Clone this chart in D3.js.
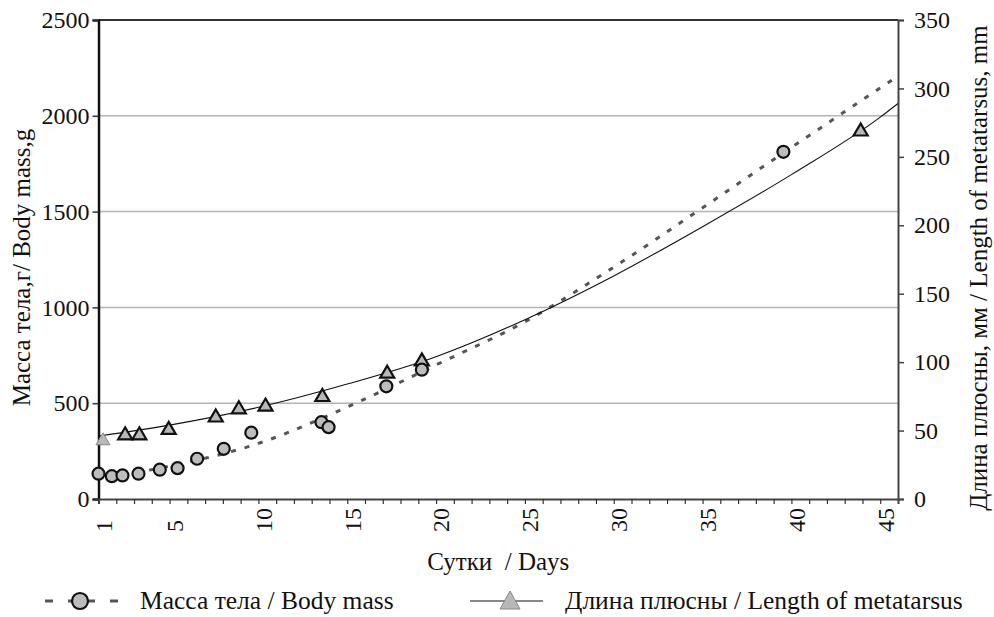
<!DOCTYPE html>
<html>
<head>
<meta charset="utf-8">
<script src="https://cdnjs.cloudflare.com/ajax/libs/d3/7.8.5/d3.min.js"></script>
</head>
<body style="margin:0">
<script>
// data
var massDays = [1, 1.75, 2.35, 3.25, 4.45, 5.45, 6.55, 8.05, 9.6, 13.55, 13.95, 17.2, 19.2, 39.55];
var massValues = [132, 119, 123, 132, 153, 161, 210, 262, 346, 401, 375, 588, 675, 1812];

var tarsusDays = [1.25, 2.5, 3.3, 4.95, 7.6, 8.9, 10.4, 13.6, 17.25, 19.2, 43.9];
var tarsusValues = [44, 48, 48, 52, 61, 67, 69, 76, 93, 102, 270];

// trend lines
var massTrendDays = [2.3, 5, 10, 15, 20, 25, 30, 35, 40, 45, 46];
var massTrendValues = [125, 172, 290, 480, 700, 925, 1210, 1520, 1835, 2145, 2207];
var tarsusTrendDays = [1, 5, 10, 15, 20, 25, 30, 35, 40, 45, 46];
var tarsusTrendValues = [46, 54, 67, 84, 104, 131, 163, 199, 237, 279, 289];

var dayTicks = d3.range(1, 46);
var dayLabels = [1, 5, 10, 15, 20, 25, 30, 35, 40, 45];
var massTicks = [0, 500, 1000, 1500, 2000, 2500];
var tarsusTicks = [0, 50, 100, 150, 200, 250, 300, 350];

var W = 994, H = 617;
var margin = { top: 20, right: 96, bottom: 118, left: 98.5 };
var tickSize = 24, titleSize = 25, legendSize = 25.5;

var svg = d3.select("body").append("svg")
  .attr("width", W)
  .attr("height", H)
  .attr("font-family", "Liberation Serif");

var x = d3.scaleLinear().domain([1, 46]).range([margin.left, W - margin.right]);
var yMass = d3.scaleLinear().domain([0, 2500]).range([H - margin.bottom, margin.top]);
var yTarsus = d3.scaleLinear().domain([0, 350]).range([H - margin.bottom, margin.top]);

var x0 = x.range()[0], x1 = x.range()[1];
var yb = yMass.range()[0], yt = yMass.range()[1];

function styleText(sel, size) {
  sel.attr("font-family", "Liberation Serif")
    .style("font-family", "'Liberation Serif'")
    .attr("font-size", size)
    .attr("fill", "#111");
}

// gridlines
svg.append("g")
  .selectAll("line")
  .data([500, 1000, 1500, 2000])
  .join("line")
  .attr("x1", x0).attr("x2", x1)
  .attr("y1", function (d) { return yMass(d); })
  .attr("y2", function (d) { return yMass(d); })
  .attr("stroke", "#b4b4b4")
  .attr("stroke-width", 1.5);

// frame top line
svg.append("line")
  .attr("x1", x0).attr("x2", x1).attr("y1", yt).attr("y2", yt)
  .attr("stroke", "#333").attr("stroke-width", 2);

// left axis
var leftAxis = svg.append("g")
  .attr("transform", "translate(" + x0 + ",0)")
  .call(d3.axisLeft(yMass).tickValues(massTicks).tickFormat(d3.format("d")).tickSize(6).tickPadding(3));
leftAxis.attr("font-family", "Liberation Serif").attr("font-size", tickSize);
leftAxis.select(".domain").attr("stroke", "#111").attr("stroke-width", 2.5);
leftAxis.selectAll(".tick line").attr("stroke", "#333").attr("stroke-width", 1.5);
leftAxis.selectAll("text").call(styleText, tickSize);

// right axis
var rightAxis = svg.append("g")
  .attr("transform", "translate(" + x1 + ",0)")
  .call(d3.axisRight(yTarsus).tickValues(tarsusTicks).tickSize(6).tickPadding(10));
rightAxis.attr("font-family", "Liberation Serif").attr("font-size", tickSize);
rightAxis.select(".domain").attr("stroke", "#444").attr("stroke-width", 2);
rightAxis.selectAll(".tick line").attr("stroke", "#444").attr("stroke-width", 1.5);
rightAxis.selectAll("text").call(styleText, tickSize);

// bottom axis
var bottomAxis = svg.append("g")
  .attr("transform", "translate(0," + yb + ")")
  .call(d3.axisBottom(x).tickValues(dayTicks).tickSize(5).tickFormat(""));
bottomAxis.attr("font-family", "Liberation Serif");
bottomAxis.select(".domain").attr("stroke", "#444").attr("stroke-width", 2);
bottomAxis.selectAll(".tick line").attr("stroke", "#333").attr("stroke-width", 1.2);

svg.append("g")
  .selectAll("text")
  .data(dayLabels)
  .join("text")
  .attr("transform", function (d) {
    return "translate(" + (x(d) + 5) + "," + (yb + 33) + ") rotate(-90)";
  })
  .attr("dy", "0.35em")
  .attr("text-anchor", "start")
  .call(styleText, tickSize)
  .text(function (d) { return d; });

// trend lines
var line = d3.line().curve(d3.curveMonotoneX);

svg.append("path")
  .attr("d", line(massTrendDays.map(function (d, i) { return [x(d), yMass(massTrendValues[i])]; })))
  .attr("fill", "none")
  .attr("stroke", "#555")
  .attr("stroke-width", 3)
  .attr("stroke-dasharray", "5,9");

svg.append("path")
  .attr("d", line(tarsusTrendDays.map(function (d, i) { return [x(d), yTarsus(tarsusTrendValues[i])]; })))
  .attr("fill", "none")
  .attr("stroke", "#111")
  .attr("stroke-width", 1.1);

// markers
function triangle(cx, cy, hw, hh) {
  return "M" + cx + "," + (cy - hh) + "L" + (cx + hw) + "," + (cy + hh) + "L" + (cx - hw) + "," + (cy + hh) + "Z";
}

svg.append("g")
  .selectAll("path")
  .data(tarsusDays)
  .join("path")
  .attr("d", function (d, i) { return triangle(x(d), yTarsus(tarsusValues[i]), 7, 6); })
  .attr("fill", "#b8b8b8")
  .attr("stroke", function (d, i) { return i === 0 ? "#888" : "#111"; })
  .attr("stroke-width", function (d, i) { return i === 0 ? 1 : 2.2; });

svg.append("g")
  .selectAll("circle")
  .data(massDays)
  .join("circle")
  .attr("cx", function (d) { return x(d); })
  .attr("cy", function (d, i) { return yMass(massValues[i]); })
  .attr("r", 6)
  .attr("fill", "#bdbdbd")
  .attr("stroke", "#111")
  .attr("stroke-width", 2.2);

// axis titles
svg.append("text")
  .attr("transform", "translate(30," + ((yb + yt) / 2 + 8) + ") rotate(-90)")
  .attr("text-anchor", "middle")
  .call(styleText, titleSize)
  .text("Масса тела,г/ Body mass,g");

svg.append("text")
  .attr("transform", "translate(987,268) rotate(-90)")
  .attr("text-anchor", "middle")
  .call(styleText, titleSize)
  .text("Длина плюсны, мм / Length of metatarsus, mm");

svg.append("text")
  .attr("x", (x0 + x1) / 2)
  .attr("y", 570)
  .attr("text-anchor", "middle")
  .call(styleText, titleSize)
  .text("Сутки\u00A0 / Days");

// legend
var ly = 601;
svg.append("line")
  .attr("x1", 45).attr("x2", 118).attr("y1", ly).attr("y2", ly)
  .attr("stroke", "#555").attr("stroke-width", 3)
  .attr("stroke-dasharray", "8 15 27 15 8");
svg.append("circle")
  .attr("cx", 80).attr("cy", ly).attr("r", 8)
  .attr("fill", "#bdbdbd").attr("stroke", "#111").attr("stroke-width", 2.2);
svg.append("text")
  .attr("x", 140).attr("y", ly + 8)
  .call(styleText, legendSize)
  .text("Масса тела / Body mass");

svg.append("line")
  .attr("x1", 470).attr("x2", 543).attr("y1", ly).attr("y2", ly)
  .attr("stroke", "#111").attr("stroke-width", 1);
svg.append("path")
  .attr("d", triangle(510, ly - 1, 10, 9))
  .attr("fill", "#b8b8b8").attr("stroke", "#888").attr("stroke-width", 1);
svg.append("text")
  .attr("x", 565).attr("y", ly + 8)
  .call(styleText, legendSize)
  .text("Длина плюсны / Length of metatarsus");
</script>
</body>
</html>
